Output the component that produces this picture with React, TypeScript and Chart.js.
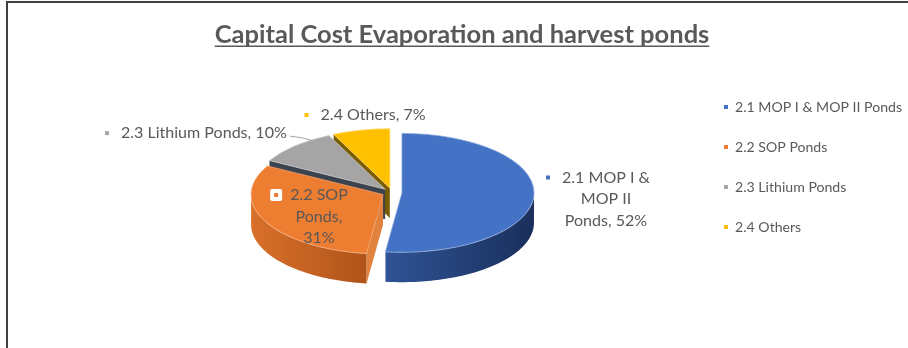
import React, { useEffect, useRef } from 'react';
import { Chart, registerables } from 'chart.js';

Chart.register(...registerables);

// ---- data ----
const categories = ['2.1 MOP I & MOP II Ponds', '2.2 SOP Ponds', '2.3 Lithium Ponds', '2.4 Others'];
const percentages = [52, 31, 10, 7];
const chartTitle = 'Capital Cost Evaporation and harvest ponds';

// ---- styles ----
const topColors = ['#4472C4', '#ED7D31', '#A5A5A5', '#FFC000'];
const edgeColors = ['#86A3DD', '#F5A673', '#C9C9C9', '#FFD75A'];
const sideGradients = [
  ['#2F5395', '#1A2F5C'],
  ['#D8702A', '#B0541A'],
  ['#6F6F6F', '#4A4A4A'],
  ['#8C6B00', '#6B5200'],
];
const radialWallColors = ['#253F76', '#E2823F', '#3B434E', '#7A5D00'];
const labelLayout = [
  { rho: 1, dx: 72.3, dy: 2.5, wrap: 95, align: 'center', boxed: false, leader: false },
  { rho: 0.5, dx: -5.3, dy: 8.5, wrap: 64, align: 'center', boxed: true, leader: false },
  { rho: 1, dx: -8, dy: -12.8, wrap: Infinity, align: 'right', boxed: false, leader: true },
  { rho: 1, dx: 12.1, dy: -15.1, wrap: Infinity, align: 'center', boxed: false, leader: false },
];

const FONT = 'Lato, "Open Sans", sans-serif';
const TEXT = '#595959';
const EXPLODE = 10;
const SQUASH = 0.45;
const DEPTH = 30;
const LINE_H = 21.5;
const W = 908;
const H = 348;

function fitSize(text: string, weight: string, target: number) {
  const c = document.createElement('canvas').getContext('2d')!;
  c.font = `${weight} 100px ${FONT}`;
  return (100 * target) / c.measureText(text).width;
}

function wrap(ctx: CanvasRenderingContext2D, text: string, maxW: number) {
  const words = text.split(' ');
  const lines: string[] = [];
  let cur = '';
  for (const w of words) {
    const test = cur ? cur + ' ' + w : w;
    if (cur && ctx.measureText(test).width > maxW) {
      lines.push(cur);
      cur = w;
    } else cur = test;
  }
  if (cur) lines.push(cur);
  return lines;
}

function geometry(chart: any) {
  const meta = chart.getDatasetMeta(0);
  return meta.data.map((el: any) => {
    const p = el.getProps(['x', 'y', 'startAngle', 'endAngle', 'outerRadius'], true);
    const mid = (p.startAngle + p.endAngle) / 2;
    return {
      el,
      ...p,
      mid,
      ox: p.x + EXPLODE * Math.cos(mid),
      oy: p.y + SQUASH * EXPLODE * Math.sin(mid),
    };
  });
}

const pt = (g: any, a: number, rho: number, dz = 0) => [
  g.ox + rho * g.outerRadius * Math.cos(a),
  g.oy + SQUASH * rho * g.outerRadius * Math.sin(a) + dz,
];

function radialWall(ctx: CanvasRenderingContext2D, g: any, a: number, color: string) {
  const c0 = pt(g, a, 0);
  const e0 = pt(g, a, 1);
  ctx.beginPath();
  ctx.moveTo(c0[0], c0[1]);
  ctx.lineTo(e0[0], e0[1]);
  ctx.lineTo(e0[0], e0[1] + DEPTH);
  ctx.lineTo(c0[0], c0[1] + DEPTH);
  ctx.closePath();
  ctx.fillStyle = color;
  ctx.fill();
}

function outerWall(ctx: CanvasRenderingContext2D, g: any, s: number, t: number, cols: string[]) {
  const N = Math.max(8, Math.ceil((t - s) * 40));
  ctx.beginPath();
  for (let n = 0; n <= N; n++) {
    const a = s + ((t - s) * n) / N;
    const [x, y] = pt(g, a, 1);
    if (n) ctx.lineTo(x, y);
    else ctx.moveTo(x, y);
  }
  for (let n = N; n >= 0; n--) {
    const a = s + ((t - s) * n) / N;
    const [x, y] = pt(g, a, 1, DEPTH);
    ctx.lineTo(x, y);
  }
  ctx.closePath();
  const xa = pt(g, s, 1)[0];
  const xb = pt(g, t, 1)[0];
  const grad = ctx.createLinearGradient(Math.min(xa, xb), 0, Math.max(xa, xb), 0);
  grad.addColorStop(0, cols[0]);
  grad.addColorStop(1, cols[1]);
  ctx.fillStyle = grad;
  ctx.fill();
  // thin highlight along the top rim
  ctx.beginPath();
  for (let n = 0; n <= N; n++) {
    const a = s + ((t - s) * n) / N;
    const [x, y] = pt(g, a, 1);
    if (n) ctx.lineTo(x, y);
    else ctx.moveTo(x, y);
  }
  ctx.strokeStyle = 'rgba(255,255,255,0.45)';
  ctx.lineWidth = 1;
  ctx.stroke();
}

const pie3d = {
  id: 'pie3d',
  beforeDatasetsDraw(chart: any) {
    const ctx = chart.ctx as CanvasRenderingContext2D;
    const geo = geometry(chart);
    const order = geo.map((_: any, i: number) => i).sort((a: number, b: number) => Math.sin(geo[a].mid) - Math.sin(geo[b].mid));
    ctx.save();
    for (const i of order) {
      const g = geo[i];
      if (Math.cos(g.startAngle) < -0.02) radialWall(ctx, g, g.startAngle, radialWallColors[i]);
      if (Math.cos(g.endAngle) > 0.02) radialWall(ctx, g, g.endAngle, radialWallColors[i]);
      for (const k of [-2, 0, 2]) {
        const s = Math.max(g.startAngle, k * Math.PI);
        const t = Math.min(g.endAngle, (k + 1) * Math.PI);
        if (t > s) outerWall(ctx, g, s, t, sideGradients[i]);
      }
    }
    for (const i of order) {
      const g = geo[i];
      ctx.save();
      ctx.translate(g.ox, g.oy);
      ctx.scale(1, SQUASH);
      ctx.translate(-g.x, -g.y);
      g.el.draw(ctx);
      ctx.restore();
    }
    ctx.restore();
    return false;
  },
};

function makeLabelsPlugin(fs: number, ft: number) {
  return {
    id: 'pieLabels',
    afterDraw(chart: any) {
      const ctx = chart.ctx as CanvasRenderingContext2D;
      const geo = geometry(chart);
      ctx.save();
      // title
      ctx.font = `bold ${ft}px ${FONT}`;
      ctx.fillStyle = TEXT;
      ctx.textAlign = 'center';
      ctx.textBaseline = 'alphabetic';
      ctx.fillText(chartTitle, 462, 43);
      const tw = ctx.measureText(chartTitle).width;
      ctx.fillRect(462 - tw / 2, 45.5, tw, 1.5);

      // data labels
      ctx.font = `${fs}px ${FONT}`;
      ctx.textBaseline = 'middle';
      geo.forEach((g: any, i: number) => {
        const L = labelLayout[i];
        const [ax, ay] = pt(g, g.mid, L.rho);
        const text = `${categories[i]}, ${percentages[i]}%`;
        const lines = wrap(ctx, text, L.wrap);
        const widths = lines.map((l) => ctx.measureText(l).width);
        const maxW = Math.max(...widths);
        const cx = L.align === 'right' ? ax + L.dx - maxW / 2 : ax + L.dx;
        const cy = ay + L.dy;
        const y0 = cy - ((lines.length - 1) * LINE_H) / 2;
        ctx.fillStyle = TEXT;
        ctx.textAlign = 'center';
        lines.forEach((ln, k) => ctx.fillText(ln, cx, y0 + k * LINE_H));
        const mx = cx - widths[0] / 2 - 14;
        if (L.boxed) {
          ctx.fillStyle = '#FFFFFF';
          ctx.beginPath();
          (ctx as any).roundRect(mx - 6, y0 - 6, 12, 12, 2);
          ctx.fill();
          ctx.fillStyle = topColors[i];
          ctx.fillRect(mx - 2, y0 - 2, 4, 4);
        } else {
          ctx.fillStyle = topColors[i];
          ctx.fillRect(mx - 2, y0 - 2, 4, 4);
        }
        if (L.leader) {
          const end = pt(g, g.startAngle + 0.75 * (g.endAngle - g.startAngle), 1);
          const sx = cx + maxW / 2 + 3;
          ctx.beginPath();
          ctx.moveTo(sx, y0 + 3);
          ctx.quadraticCurveTo(sx + 12, y0 + 4, end[0], end[1]);
          ctx.strokeStyle = '#A6A6A6';
          ctx.lineWidth = 1;
          ctx.stroke();
        }
      });
      ctx.restore();
    },
  };
}

export default function App() {
  const ref = useRef<HTMLCanvasElement>(null);
  useEffect(() => {
    const canvas = ref.current!;
    const ft = fitSize(chartTitle, 'bold', 495);
    const fs = fitSize('2.3 Lithium Ponds, 10%', 'normal', 166);
    const ls = fitSize('2.1 MOP I & MOP II Ponds', 'normal', 167);
    const legendPad = 40 - ls;
    const padTop = 107 - ls / 2 - legendPad;
    const padBottom = H - (2 * 192.5 - padTop);
    const legendLeft = 724 - legendPad;
    const pieCenterX = 392;

    const chart = new Chart(canvas, {
      type: 'pie',
      data: {
        labels: categories,
        datasets: [
          {
            data: percentages,
            backgroundColor: topColors,
            borderColor: edgeColors,
            borderWidth: 1,
            offset: 0,
          },
        ],
      },
      options: {
        responsive: false,
        maintainAspectRatio: false,
        animation: false,
        devicePixelRatio: 1,
        events: [],
        radius: 132,
        layout: { padding: { left: 2 * pieCenterX - legendLeft, right: 0, top: padTop, bottom: padBottom } },
        plugins: {
          title: { display: false },
          tooltip: { enabled: false },
          legend: {
            position: 'right',
            align: 'start',
            labels: {
              color: TEXT,
              font: { family: FONT, size: ls },
              boxWidth: 4,
              boxHeight: 4,
              padding: legendPad,
              generateLabels: (c: any) =>
                (Chart as any).overrides.pie.plugins.legend.labels
                  .generateLabels(c)
                  .map((l: any) => ({ ...l, lineWidth: 0, strokeStyle: 'rgba(0,0,0,0)' })),
            },
          },
        },
      } as any,
      plugins: [pie3d as any, makeLabelsPlugin(fs, ft) as any],
    });

    const lw = (chart as any).legend.width;
    (chart.options as any).layout.padding = {
      left: 2 * pieCenterX - legendLeft,
      right: W - legendLeft - lw,
      top: padTop,
      bottom: padBottom,
    };
    chart.update();
    return () => chart.destroy();
  }, []);

  return (
    <div style={{ position: 'fixed', left: 0, top: 0, width: W, height: H, background: '#fff', overflow: 'hidden' }}>
      <div
        style={{
          position: 'absolute',
          left: 6,
          top: 1,
          width: 1000,
          height: 400,
          borderLeft: '2px solid #404040',
          borderTop: '2px solid #404040',
        }}
      />
      <canvas ref={ref} width={W} height={H} style={{ position: 'absolute', left: 0, top: 0 }} />
    </div>
  );
}
